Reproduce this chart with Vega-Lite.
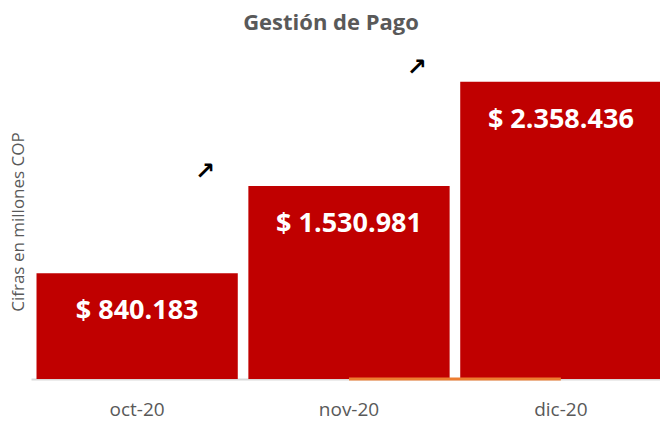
{
  "$schema": "https://vega.github.io/schema/vega-lite/v6.json",
  "autosize": "none",
  "width": 636,
  "height": 315,
  "padding": {"left": 31, "top": 64, "right": 0, "bottom": 45},
  "background": "white",
  "config": {"view": {"stroke": null}},
  "title": {"text": "Gestión de Pago", "font": "Open Sans", "fontSize": 22, "fontWeight": "bold", "color": "#595959", "offset": 21, "dx": -18},
  "data": {"values": [
    {"mes": "oct-20", "valor": 840183, "etiqueta": "$ 840.183", "var": null},
    {"mes": "nov-20", "valor": 1530981, "etiqueta": "$ 1.530.981", "var": 0},
    {"mes": "dic-20", "valor": 2358436, "etiqueta": "$ 2.358.436", "var": 0}
  ]},
  "encoding": {
    "x": {"field": "mes", "type": "nominal", "sort": null,
      "scale": {"paddingInner": 0.05, "paddingOuter": 0.026},
      "axis": {"title": null, "labelAngle": 0, "labelFont": "Open Sans", "labelFontSize": 19, "labelColor": "#595959", "labelPadding": 21, "ticks": false, "domainColor": "#d9d9d9", "domainWidth": 2}}
  },
  "layer": [
    {"mark": {"type": "bar", "color": "#C00000"},
     "encoding": {"y": {"field": "valor", "type": "quantitative", "scale": {"domain": [0, 2500000], "nice": false},
       "axis": {"title": "Cifras en millones COP", "titleFont": "Open Sans", "titleFontSize": 17, "titleFontWeight": "normal", "titleColor": "#595959", "labels": false, "ticks": false, "domain": false, "grid": false, "titlePadding": 4}}}},
    {"mark": {"type": "text", "color": "white", "font": "Open Sans", "fontWeight": "bold", "fontSize": 27, "baseline": "middle", "dy": 38},
     "encoding": {"y": {"field": "valor", "type": "quantitative", "scale": {"domain": [0, 2500000], "nice": false}}, "text": {"field": "etiqueta"}}},
    {"transform": [{"filter": "datum.var != null"}],
     "mark": {"type": "text", "text": "↗", "font": "DejaVu Sans", "fontSize": 24, "fontWeight": "bold", "color": "black", "dx": -144, "dy": -14, "baseline": "middle"},
     "encoding": {"y": {"field": "valor", "type": "quantitative", "scale": {"domain": [0, 2500000], "nice": false}}}},
    {"transform": [{"filter": "datum.var != null"}],
     "mark": {"type": "line", "color": "#ED7D31", "strokeWidth": 3},
     "encoding": {"y": {"field": "var", "type": "quantitative", "scale": {"domain": [0, 2500000], "nice": false}}}}
  ]
}
